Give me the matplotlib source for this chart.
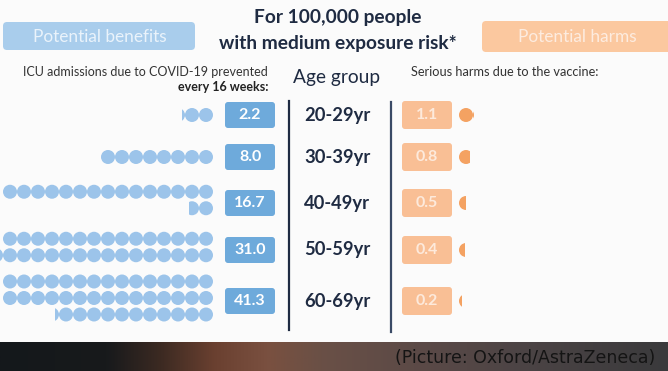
import numpy as np
import matplotlib
matplotlib.use("Agg")
import matplotlib.pyplot as plt
from matplotlib.patches import Circle, Rectangle, FancyBboxPatch
from matplotlib.colors import LinearSegmentedColormap

# Данные
age_groups = ["20-29yr", "30-39yr", "40-49yr", "50-59yr", "60-69yr"]
icu_prevented = [2.2, 8.0, 16.7, 31.0, 41.3]
serious_harms = [1.1, 0.8, 0.5, 0.4, 0.2]

# Цвета
navy = "#1f2b42"
blue_box = "#6eaadb"
blue_dot = "#9cc4ea"
blue_head = "#a9cdec"
orange_box = "#f9bf95"
orange_dot = "#f4a262"
orange_head = "#fbc89f"

W, H = 668, 371
fig = plt.figure(figsize=(W / 100, H / 100), dpi=100)
ax = fig.add_axes([0, 0, 1, 1])
ax.set_xlim(0, W)
ax.set_ylim(H, 0)
ax.axis("off")
fig.patch.set_facecolor("#fbfbfb")

row_y = [115, 157, 203, 250, 301]
per_row = 15
step = 14.0
r = 7.0


def draw_dot(cx, cy, color, frac=1.0, from_right=True):
    c = Circle((cx, cy), r, color=color, lw=0)
    ax.add_patch(c)
    if frac < 1:
        w = 2 * r * frac
        x0 = cx + r - w if from_right else cx - r
        clip = Rectangle((x0, cy - r - 1), w, 2 * r + 2, transform=ax.transData)
        c.set_clip_path(clip)


# Левая часть: точки (1 точка = 1 человек)
x_right = 206
for val, y in zip(icu_prevented, row_y):
    rows = []
    left = val
    while left > 0:
        n = min(per_row, left)
        rows.append(n)
        left -= n
    # хвост не больше одной точки дописываем в предыдущий ряд
    if len(rows) > 1 and rows[-1] <= 1:
        rows[-2] += rows[-1]
        rows.pop()
    nr = len(rows)
    yc = y if nr == 1 else y - 3
    for i, n in enumerate(rows):
        yy = yc + (i - (nr - 1) / 2) * 16.5
        k = int(n)
        for j in range(k):
            draw_dot(x_right - j * step, yy, blue_dot)
        f = n - k
        if f > 0.01:
            draw_dot(x_right - k * step, yy, blue_dot, f, from_right=True)

# Правая часть: вред
x_left = 466
for val, y in zip(serious_harms, row_y):
    k = int(val)
    for j in range(k):
        draw_dot(x_left + j * step, y, orange_dot)
    f = val - k
    if f > 0.01:
        draw_dot(x_left + k * step, y, orange_dot, f, from_right=False)

# Прямоугольники со значениями
for val, y in zip(icu_prevented, row_y):
    ax.add_patch(FancyBboxPatch((225, y - 13), 50, 26, boxstyle="round,pad=0,rounding_size=3",
                                fc=blue_box, ec="none"))
    ax.text(250, y, f"{val:.1f}", ha="center", va="center", color="white",
            fontsize=11.5, fontweight="bold", family="Lato")
for val, y in zip(serious_harms, row_y):
    ax.add_patch(FancyBboxPatch((402, y - 14), 50, 28, boxstyle="round,pad=0,rounding_size=3",
                                fc=orange_box, ec="none"))
    ax.text(427, y, f"{val:.1f}", ha="center", va="center", color="#fdeadc",
            fontsize=11.5, fontweight="bold", family="Lato")

# Возрастные группы
for g, y in zip(age_groups, row_y):
    ax.text(337, y, g, ha="center", va="center", color=navy, fontsize=13.2,
            fontweight="bold", family="Lato")
ax.plot([289, 289], [101, 330], color=navy, lw=1.6)
ax.plot([391, 391], [102, 332], color="#3a4a66", lw=1.6)

# Заголовки
ax.text(338, 18, "For 100,000 people", ha="center", va="center", color=navy,
        fontsize=13.8, fontweight="bold", family="Lato")
ax.text(338, 43, "with medium exposure risk*", ha="center", va="center", color=navy,
        fontsize=13.8, fontweight="bold", family="Lato")
ax.text(337, 77, "Age group", ha="center", va="center", color=navy, fontsize=13.8, family="Lato")
ax.text(268, 72, "ICU admissions due to COVID-19 prevented", ha="right", va="center",
        color="#333333", fontsize=9, family="Lato")
ax.text(268, 87, "every 16 weeks:", ha="right", va="center", color="#222222",
        fontsize=9, fontweight="bold", family="Lato")
ax.text(411, 72, "Serious harms due to the vaccine:", ha="left", va="center",
        color="#333333", fontsize=9.2, family="Lato")

ax.add_patch(FancyBboxPatch((3, 22), 192, 28, boxstyle="round,pad=0,rounding_size=4",
                            fc=blue_head, ec="none"))
ax.text(100, 36.5, "Potential benefits", ha="center", va="center", color="#eaf3fb",
        fontsize=12.4, family="Lato")
ax.add_patch(FancyBboxPatch((482, 21), 200, 31, boxstyle="round,pad=0,rounding_size=4",
                            fc=orange_head, ec="none"))
ax.text(577, 37, "Potential harms", ha="center", va="center", color="#fdece0",
        fontsize=12.4, family="Lato")

# Нижняя полоса (кадр из видео)
band = LinearSegmentedColormap.from_list("band", [
    (0.0, "#14181b"), (0.16, "#181a1c"), (0.24, "#3c2a22"), (0.32, "#6a4030"),
    (0.40, "#7a5040"), (0.48, "#6a5046"), (0.62, "#5c4a47"), (0.78, "#4c4445"),
    (1.0, "#3a3a3c")])
ax.imshow(np.linspace(0, 1, 256)[None, :], cmap=band, aspect="auto",
          extent=(0, W, H, 342), zorder=0.5)
ax.text(655, 358, "(Picture: Oxford/AstraZeneca)", ha="right", va="center",
        color="#141414", fontsize=12.5, family="DejaVu Sans")

fig.savefig("out.png", dpi=100, facecolor=fig.get_facecolor())
